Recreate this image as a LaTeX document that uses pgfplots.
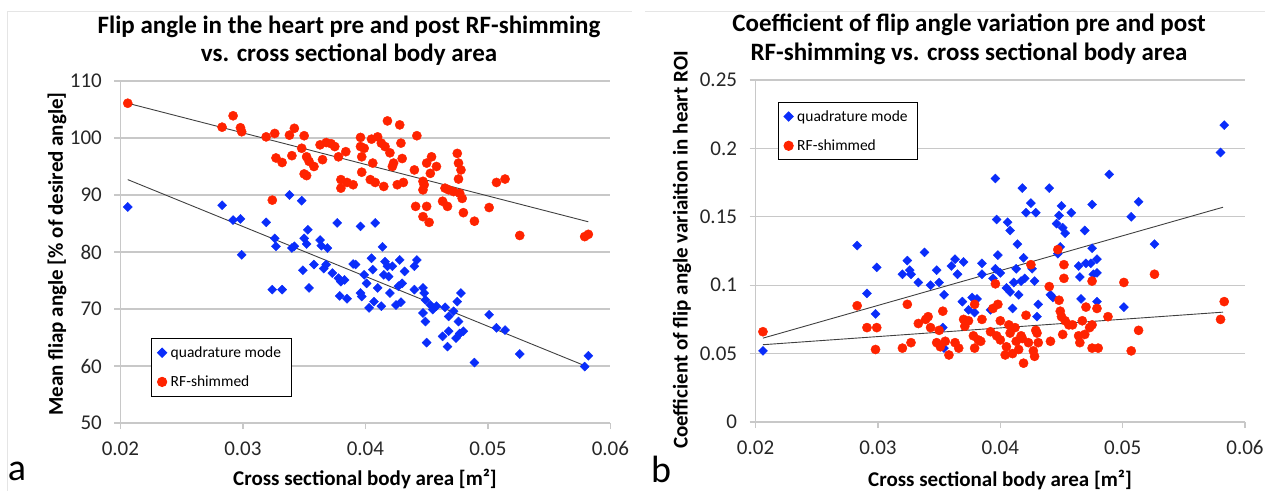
\documentclass[border=0pt]{standalone}
\usepackage{pgfplots}
\pgfplotsset{compat=1.18}
\usepackage{graphicx}
\usepackage{fontspec}
\setmainfont{Carlito}
\definecolor{qblue}{RGB}{10,45,250}
\definecolor{sred}{RGB}{255,35,0}
\definecolor{gridc}{RGB}{200,200,200}
\pgfplotsset{
  panel/.style={
    scale only axis, anchor=south west,
    axis x line*=bottom, axis y line*=left,
    axis line style={draw=gridc, line width=1.2pt},
    ymajorgrids, major grid style={draw=gridc, line width=1.2pt},
    tick align=outside, major tick length=6pt,
    major tick style={draw=gridc, line width=1.2pt},
    xmin=0.02, xmax=0.06,
    scaled x ticks=false, scaled y ticks=false,
    xtick={0.02,0.03,0.04,0.05,0.06},
    xticklabels={0.02,0.03,0.04,0.05,0.06},
    /pgf/number format/assume math mode=true,
    ticklabel style={font=\fontsize{21}{21}\selectfont, text=black!85},
    xticklabel style={yshift=-9pt},
    yticklabel style={xshift=-9pt},
    legend cell align=left,
    legend style={draw=black, line width=1pt, fill=white,
      font=\fontsize{15.5}{17}\selectfont, row sep=13pt,
      inner xsep=6pt, inner ysep=6pt, anchor=north west,
      nodes={inner xsep=4pt}},
  },
  qm/.style={only marks, mark=square*, mark size=3.2pt, color=qblue,
    mark options={rotate=45, fill=qblue, draw=qblue}},
  rs/.style={only marks, mark=*, mark size=4.6pt, color=sred,
    mark options={fill=sred, draw=sred}},
  trend/.style={black!75, line width=0.9pt, forget plot},
}
\begin{document}
\begin{tikzpicture}[x=1pt,y=1pt]
\draw[black!10, line width=1pt] (7,0) -- (7,479) -- (632,479);
\draw[black!10, line width=1pt] (645,479) -- (1265,479);

% ---------------- panel a ----------------
\begin{axis}[panel, at={(120.4pt,68pt)}, width=490pt, height=342pt,
  ymin=50, ymax=110, ytick={50,60,70,80,90,100,110},
  yticklabels={50,60,70,80,90,100,110},
  legend style={at={(0.0625,0.2485)}}]
\addplot[qm] coordinates {
(0.0206,87.9) (0.0283,88.2) (0.0292,85.6) (0.0298,85.8) (0.0299,79.5)
(0.0319,85.2) (0.0324,73.4) (0.0326,82.4) (0.0327,81.0) (0.0332,73.4)
(0.0338,90.0) (0.0340,80.7) (0.0342,81.0) (0.0348,89.0) (0.0349,76.8)
(0.0350,82.4) (0.0352,81.4) (0.0353,83.9) (0.0354,73.7) (0.0358,77.8)
(0.0363,82.1) (0.0364,81.1) (0.0366,77.1) (0.0369,80.7) (0.0368,77.8)
(0.0373,76.3) (0.0377,85.1) (0.0378,75.4) (0.0380,74.8) (0.0379,72.3)
(0.0383,75.1) (0.0385,71.8) (0.0390,77.9) (0.0392,77.8) (0.0396,72.8)
(0.0397,72.2) (0.0396,84.5) (0.0399,76.0) (0.0401,74.5) (0.0403,70.2)
(0.0405,78.9) (0.0406,76.9) (0.0407,71.3) (0.0408,85.1) (0.0410,73.7)
(0.0413,70.5) (0.0414,80.9) (0.0415,76.0) (0.0416,78.3) (0.0418,77.5)
(0.0419,75.7) (0.0420,72.8) (0.0422,77.5) (0.0425,70.7) (0.0427,74.0)
(0.0428,78.6) (0.0429,71.2) (0.0430,74.5) (0.0432,76.6) (0.0440,77.5)
(0.0442,78.6) (0.0440,73.4) (0.0447,73.7) (0.0447,69.3) (0.0448,72.8)
(0.0449,67.8) (0.0450,64.1) (0.0449,71.6) (0.0453,70.7) (0.0455,69.9)
(0.0458,70.5) (0.0465,70.3) (0.0463,65.2) (0.0467,63.4) (0.0468,68.7)
(0.0468,66.1) (0.0472,69.6) (0.0474,64.9) (0.0475,71.3) (0.0476,67.8)
(0.0477,65.7) (0.0478,72.8) (0.0480,66.1) (0.0489,60.6) (0.0501,69.0)
(0.0507,66.7) (0.0514,66.3) (0.0526,62.1) (0.0579,59.9) (0.0582,61.8)
};
\addlegendentry{quadrature mode}
\addplot[rs] coordinates {
(0.0206,106.1) (0.0283,101.9) (0.0292,103.9) (0.0298,101.8) (0.0299,101.1)
(0.0319,100.2) (0.0326,100.8) (0.0324,89.1) (0.0327,96.5) (0.0332,95.7)
(0.0338,100.5) (0.0340,96.9) (0.0342,101.7) (0.0350,100.4) (0.0348,98.2)
(0.0352,96.7) (0.0354,95.9) (0.0350,93.7) (0.0352,93.4) (0.0358,95.0)
(0.0363,98.8) (0.0365,96.2) (0.0368,99.2) (0.0372,99.0) (0.0375,98.5)
(0.0378,96.7) (0.0380,92.7) (0.0380,91.2) (0.0384,97.6) (0.0385,92.2)
(0.0390,91.8) (0.0396,100.1) (0.0397,96.7) (0.0396,98.5) (0.0397,94.0)
(0.0399,98.2) (0.0404,92.7) (0.0405,99.8) (0.0406,95.6) (0.0408,92.2)
(0.0410,100.2) (0.0413,99.1) (0.0415,91.5) (0.0416,98.5) (0.0418,103.0)
(0.0420,97.4) (0.0422,95.0) (0.0423,95.6) (0.0426,91.8) (0.0428,102.3)
(0.0429,99.1) (0.0430,96.4) (0.0431,92.2) (0.0442,100.4) (0.0440,94.4)
(0.0441,88.0) (0.0447,92.4) (0.0447,90.9) (0.0448,91.8) (0.0447,86.2)
(0.0450,88.0) (0.0450,95.6) (0.0452,85.2) (0.0453,93.8) (0.0454,96.7)
(0.0458,95.0) (0.0463,88.9) (0.0467,88.0) (0.0465,91.2) (0.0468,90.9)
(0.0472,90.6) (0.0475,97.3) (0.0476,95.6) (0.0476,92.8) (0.0477,90.3)
(0.0478,94.4) (0.0479,89.4) (0.0480,86.9) (0.0489,85.4) (0.0501,87.8)
(0.0507,92.2) (0.0514,92.8) (0.0526,82.9) (0.0579,82.7) (0.0582,83.1)
};
\addlegendentry{RF-shimmed}
\addplot[trend] coordinates {(0.0206,106.1) (0.0582,85.3)};
\addplot[trend] coordinates {(0.0206,92.7) (0.0582,59.8)};
\end{axis}

% ---------------- panel b ----------------
\begin{axis}[panel, at={(755.6pt,69pt)}, width=489.4pt, height=342pt,
  ymin=0, ymax=0.25, ytick={0,0.05,0.1,0.15,0.2,0.25},
  yticklabels={0,0.05,0.1,0.15,0.2,0.25},
  legend style={at={(0.0448,0.936)}}]
\addplot[qm] coordinates {
(0.0206,0.052) (0.0283,0.129) (0.0291,0.094) (0.0299,0.113) (0.0298,0.079)
(0.0320,0.108) (0.0324,0.118) (0.0326,0.111) (0.0327,0.108) (0.0333,0.102)
(0.0338,0.124) (0.0343,0.100) (0.0348,0.111) (0.0350,0.102) (0.0354,0.093)
(0.0353,0.069) (0.0354,0.054) (0.0360,0.114) (0.0363,0.119) (0.0365,0.108)
(0.0370,0.117) (0.0369,0.088) (0.0374,0.082) (0.0377,0.091) (0.0379,0.080)
(0.0381,0.090) (0.0385,0.116) (0.0385,0.108) (0.0392,0.082) (0.0394,0.105)
(0.0396,0.178) (0.0397,0.148) (0.0398,0.122) (0.0396,0.112) (0.0400,0.109)
(0.0405,0.098) (0.0406,0.146) (0.0408,0.140) (0.0408,0.095) (0.0410,0.083)
(0.0411,0.102) (0.0413,0.112) (0.0414,0.130) (0.0415,0.093) (0.0417,0.103)
(0.0418,0.171) (0.0419,0.120) (0.0420,0.105) (0.0421,0.153) (0.0425,0.160)
(0.0426,0.112) (0.0428,0.103) (0.0429,0.153) (0.0430,0.077) (0.0431,0.086)
(0.0440,0.171) (0.0441,0.093) (0.0443,0.091) (0.0446,0.145) (0.0447,0.123)
(0.0448,0.151) (0.0449,0.128) (0.0450,0.158) (0.0451,0.142) (0.0453,0.138)
(0.0458,0.153) (0.0464,0.114) (0.0465,0.106) (0.0466,0.090) (0.0469,0.140)
(0.0470,0.116) (0.0474,0.116) (0.0475,0.127) (0.0475,0.159) (0.0476,0.108)
(0.0479,0.088) (0.0479,0.119) (0.0479,0.109) (0.0489,0.181) (0.0501,0.084)
(0.0507,0.150) (0.0513,0.161) (0.0526,0.130) (0.0580,0.197) (0.0583,0.217)
};
\addlegendentry{quadrature mode}
\addplot[rs] coordinates {
(0.0206,0.066) (0.0283,0.085) (0.0291,0.069) (0.0299,0.069) (0.0298,0.053)
(0.0320,0.054) (0.0324,0.086) (0.0327,0.058) (0.0333,0.072) (0.0339,0.075)
(0.0341,0.077) (0.0343,0.069) (0.0348,0.058) (0.0350,0.067) (0.0351,0.055)
(0.0353,0.081) (0.0355,0.059) (0.0358,0.049) (0.0363,0.058) (0.0366,0.054)
(0.0370,0.075) (0.0371,0.070) (0.0374,0.074) (0.0378,0.063) (0.0379,0.054)
(0.0379,0.086) (0.0382,0.060) (0.0384,0.059) (0.0385,0.075) (0.0392,0.066)
(0.0394,0.083) (0.0396,0.101) (0.0398,0.086) (0.0397,0.063) (0.0400,0.074)
(0.0400,0.060) (0.0404,0.049) (0.0405,0.055) (0.0407,0.071) (0.0408,0.065)
(0.0410,0.050) (0.0412,0.069) (0.0413,0.059) (0.0415,0.053) (0.0417,0.063)
(0.0418,0.061) (0.0419,0.043) (0.0421,0.078) (0.0423,0.058) (0.0425,0.115)
(0.0427,0.052) (0.0428,0.048) (0.0429,0.067) (0.0430,0.065) (0.0431,0.058)
(0.0440,0.099) (0.0441,0.059) (0.0447,0.126) (0.0448,0.089) (0.0449,0.081)
(0.0450,0.077) (0.0451,0.064) (0.0452,0.115) (0.0452,0.105) (0.0453,0.074)
(0.0456,0.071) (0.0459,0.071) (0.0464,0.063) (0.0465,0.058) (0.0467,0.074)
(0.0469,0.064) (0.0470,0.084) (0.0473,0.069) (0.0475,0.103) (0.0475,0.071)
(0.0475,0.054) (0.0479,0.083) (0.0480,0.054) (0.0488,0.077) (0.0501,0.102)
(0.0507,0.052) (0.0513,0.067) (0.0526,0.108) (0.0580,0.075) (0.0583,0.088)
};
\addlegendentry{RF-shimmed}
\addplot[trend] coordinates {(0.0206,0.0613) (0.0582,0.157)};
\addplot[trend] coordinates {(0.0206,0.0565) (0.0582,0.0803)};
\end{axis}

% ---------------- texts ----------------
\begin{scope}[every node/.style={inner sep=0pt}]
\node[font=\bfseries\fontsize{25}{30}\selectfont] at (349,464)
  {Flip angle in the heart pre and post RF-shimming};
\node[font=\bfseries\fontsize{25}{30}\selectfont] at (349,436)
  {vs. cross sectional body area};
\node[font=\bfseries\fontsize{25}{30}\selectfont] at (969,466)
  {Coefficient of flip angle variation pre and post};
\node[font=\bfseries\fontsize{25}{30}\selectfont] at (969,437)
  {RF-shimming vs. cross sectional body area};
\node[font=\bfseries\fontsize{21}{24}\selectfont] at (365,12)
  {Cross sectional body area [m²]};
\node[font=\bfseries\fontsize{21}{24}\selectfont] at (1000,11)
  {Cross sectional body area [m²]};
\node[font=\bfseries\fontsize{21}{24}\selectfont, rotate=90] at (57,237)
  {Mean fliap angle [\% of desired angle]};
\node[font=\bfseries\fontsize{21}{24}\selectfont, rotate=90] at (682,241)
  {Coefficient of flip angle variaition in heart ROI};
\node[font=\fontsize{38}{40}\selectfont] at (17,20) {a};
\node[font=\fontsize{38}{40}\selectfont] at (661,22) {b};
\end{scope}
\pgfresetboundingbox
\path[use as bounding box] (0,0) rectangle (1265,491);
\end{tikzpicture}
\end{document}
